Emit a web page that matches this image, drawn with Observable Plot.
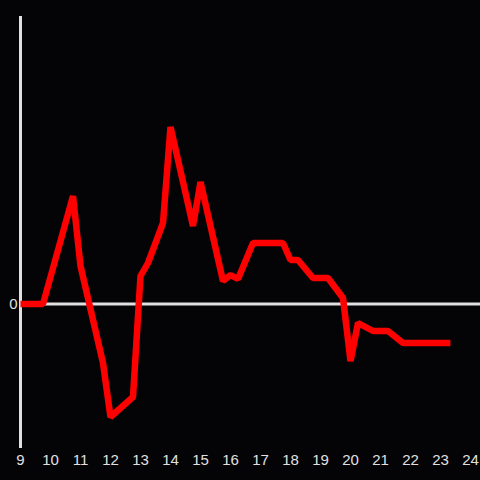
<!DOCTYPE html>
<html>
<head>
<meta charset="utf-8">
<script src="https://cdn.jsdelivr.net/npm/d3@7"></script>
<script src="https://cdn.jsdelivr.net/npm/@observablehq/plot@0.6"></script>
<style>
  html, body { margin: 0; padding: 0; background: #040306; }
  #chart svg { display: block; }
</style>
</head>
<body>
<div id="chart"></div>
<script>
const hours = [9, 9.75, 10.75, 11, 11.75, 12, 12.75, 13, 13.25, 13.75, 14, 14.75, 15, 15.75, 16, 16.25, 16.75, 17.75, 18, 18.25, 18.75, 19.25, 19.75, 20, 20.25, 20.75, 21.25, 21.75, 23.33];
const values = [0, 0, 108, 38, -59, -113, -93, 28, 41, 81, 177, 78, 122, 23, 29, 25, 61, 61, 44, 44, 26, 26, 6, -57, -19, -27, -27, -39, -39];
const xTicks = [9, 10, 11, 12, 13, 14, 15, 16, 17, 18, 19, 20, 21, 22, 23, 24];
const yTicks = [0];

const data = hours.map((h, i) => ({ h, v: values[i] }));

const chart = Plot.plot({
  width: 480,
  height: 480,
  marginLeft: 20,
  marginRight: 0,
  marginTop: 16,
  marginBottom: 32,
  style: { background: "#040306", color: "#e0e0e0", fontFamily: "Liberation Sans, Arial, sans-serif", fontSize: "15px" },
  x: { domain: [9, 24.3333] },
  y: { domain: [-144.5, 287.5] },
  marks: [
    Plot.axisX({ ticks: xTicks, tickSize: 0, tickPadding: 6, label: null, tickFormat: d => String(d), fontSize: 15 }),
    Plot.axisY({ ticks: yTicks, tickSize: 0, tickPadding: 3, label: null, fontSize: 15 }),
    Plot.ruleY([0], { stroke: "#e0e0e0", strokeWidth: 3 }),
    Plot.ruleX([9], { stroke: "#e0e0e0", strokeWidth: 3 }),
    Plot.line(data, { x: "h", y: "v", stroke: "#ff0000", strokeWidth: 6.5, strokeLinejoin: "miter", strokeLinecap: "butt" })
  ]
});
d3.select(chart).selectAll("text")
  .style("font-size", "15px")
  .style("font-family", "'Liberation Sans', Arial, sans-serif")
  .style("fill", "#e0e0e0");
document.getElementById("chart").appendChild(chart);
</script>
</body>
</html>
